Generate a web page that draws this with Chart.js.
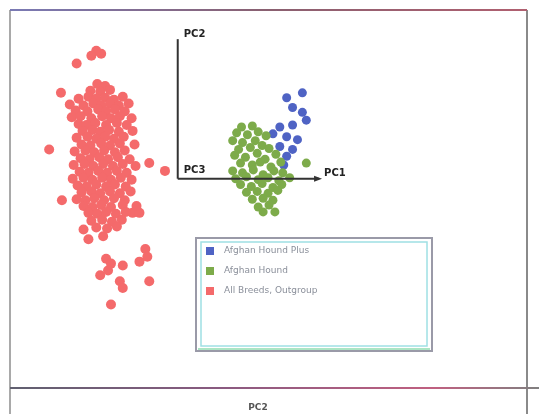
<!DOCTYPE html>
<html>
<head>
<meta charset="utf-8">
<script src="https://cdn.jsdelivr.net/npm/chart.js@4/dist/chart.umd.min.js"></script>
<style>
  body { margin: 0; background: #fff; }
  canvas { display: block; }
</style>
</head>
<body>
<canvas id="pca" width="539" height="414"></canvas>
<script>
// PCA projection, units are arbitrary PC scores
const seriesNames = ['Afghan Hound Plus', 'Afghan Hound', 'All Breeds, Outgroup'];
const axisNames = ['PC1', 'PC2', 'PC3'];
const bottomLabel = 'PC2';

const bluePoints = [
  [11.1, 8.3], [12.7, 8.8], [11.7, 7.3], [12.7, 6.8], [13.1, 6.0], [10.4, 5.3],
  [11.7, 5.5], [11.1, 4.3], [10.4, 3.3], [11.7, 3.0], [11.1, 2.3], [9.7, 4.6], [12.2, 4.0],
  [10.8, 1.4]
];

const greenPoints = [
  [6.5, 5.3], [7.6, 5.4],
  [6.0, 4.7], [7.1, 4.5], [8.2, 4.8], [9.0, 4.4],
  [5.6, 3.9], [6.6, 3.7], [7.9, 3.9], [8.6, 3.4],
  [6.2, 3.0], [7.4, 3.2], [9.3, 3.1],
  [5.8, 2.4], [6.9, 2.2], [8.1, 2.6], [8.9, 2.0], [10.0, 2.5],
  [6.4, 1.6], [7.6, 1.4], [8.4, 1.7], [9.5, 1.2], [10.5, 1.7], [13.1, 1.6],
  [5.6, 0.8], [6.6, 0.6], [7.7, 0.9], [8.7, 0.4], [9.8, 0.8], [10.7, 0.6],
  [5.9, 0.0], [7.0, 0.2], [8.2, -0.1], [9.2, 0.1], [10.3, -0.2], [11.4, 0.1],
  [6.4, -0.6], [7.5, -0.8], [8.6, -0.5], [9.7, -0.9], [10.6, -0.6],
  [7.0, -1.4], [8.1, -1.3], [9.2, -1.5], [10.2, -1.2],
  [7.6, -2.1], [8.7, -2.0], [9.7, -2.2],
  [8.2, -2.9], [9.3, -2.7],
  [8.7, -3.4], [9.9, -3.4]
];

const redPoints = [
  // outliers
  [-8.3, 13.1], [-7.8, 12.8], [-8.8, 12.6], [-10.3, 11.8], [-11.9, 8.8], [-13.1, 3.0],
  [-2.9, 1.6], [-1.3, 0.8], [-11.8, -2.2], [-4.6, -3.5], [-3.9, -3.5], [-9.6, -5.2],
  [-7.6, -5.9], [-9.1, -6.2], [-7.3, -8.2], [-6.8, -8.7], [-3.3, -7.2], [-3.1, -8.0],
  [-5.6, -8.9], [-3.9, -8.5], [-7.9, -9.9], [-5.9, -10.5], [-2.9, -10.5], [-5.6, -11.2],
  [-6.8, -12.9], [-7.1, -9.4],
  // core
  [-8.2, 9.7], [-7.4, 9.5],
  [-8.9, 9.0], [-7.9, 8.9], [-6.9, 9.1],
  [-10.1, 8.2], [-9.1, 8.4], [-8.3, 8.2], [-7.4, 8.3], [-6.5, 8.1], [-5.6, 8.4],
  [-11.0, 7.6], [-9.6, 7.5], [-8.6, 7.7], [-7.8, 7.5], [-6.9, 7.7], [-6.0, 7.5], [-5.0, 7.7],
  [-10.4, 7.0], [-9.2, 6.9], [-8.1, 7.1], [-7.3, 6.9], [-6.4, 7.1], [-5.4, 6.9],
  [-10.8, 6.3], [-9.9, 6.4], [-8.8, 6.2], [-7.7, 6.4], [-6.8, 6.2], [-5.9, 6.4], [-4.7, 6.2],
  [-10.1, 5.6], [-9.3, 5.5], [-8.4, 5.7], [-7.3, 5.5], [-6.2, 5.7], [-5.2, 5.5],
  [-9.7, 4.9], [-8.7, 5.0], [-7.9, 4.8], [-7.0, 5.0], [-6.0, 4.8], [-4.6, 4.9],
  [-10.3, 4.2], [-9.2, 4.3], [-8.3, 4.1], [-7.4, 4.3], [-6.5, 4.1], [-5.5, 4.3],
  [-9.8, 3.5], [-8.9, 3.4], [-7.8, 3.6], [-6.9, 3.4], [-5.9, 3.6], [-4.4, 3.5],
  [-10.5, 2.8], [-9.4, 2.9], [-8.5, 2.7], [-7.5, 2.9], [-6.4, 2.7], [-5.4, 2.9],
  [-9.9, 2.1], [-9.0, 2.0], [-8.0, 2.2], [-7.1, 2.0], [-6.1, 2.2], [-4.9, 2.0],
  [-10.6, 1.4], [-9.5, 1.5], [-8.6, 1.3], [-7.6, 1.5], [-6.6, 1.3], [-5.6, 1.5], [-4.3, 1.3],
  [-10.0, 0.7], [-9.1, 0.6], [-8.1, 0.8], [-7.2, 0.6], [-6.2, 0.8], [-5.2, 0.6],
  [-10.7, 0.0], [-9.6, 0.1], [-8.7, -0.1], [-7.7, 0.1], [-6.8, -0.1], [-5.8, 0.1], [-4.7, -0.1],
  [-10.2, -0.7], [-9.3, -0.8], [-8.3, -0.6], [-7.3, -0.8], [-6.4, -0.6], [-5.3, -0.8],
  [-9.8, -1.4], [-8.8, -1.3], [-7.9, -1.5], [-6.9, -1.3], [-5.9, -1.5], [-4.8, -1.3],
  [-10.3, -2.1], [-9.4, -2.2], [-8.5, -2.0], [-7.5, -2.2], [-6.5, -2.0], [-5.4, -2.2],
  [-9.6, -2.8], [-8.7, -2.9], [-7.8, -2.7], [-6.8, -2.9], [-5.6, -2.7], [-4.2, -2.8],
  [-9.1, -3.5], [-8.2, -3.6], [-7.3, -3.4], [-6.3, -3.6], [-5.3, -3.4],
  [-8.8, -4.3], [-7.7, -4.2], [-6.7, -4.4], [-5.7, -4.2],
  [-8.3, -5.0], [-7.2, -5.1], [-6.2, -4.9]
];

// axis arrows drawn from the origin
const pc1Axis = [[0, 0], [14.4, 0]];
const pc2Axis = [[0, 0], [0, 14.3]];

const colors = ['#4f63c4', '#7dab4a', '#f46a6b'];

const toXY = arr => arr.map(p => ({ x: p[0], y: p[1] }));

// frame, axis labels and legend box
const decor = {
  id: 'decor',
  beforeDatasetsDraw(chart) {
    const c = chart.ctx;
    c.save();
    // left / right borders
    c.lineWidth = 2;
    c.strokeStyle = '#a9a9a9';
    c.beginPath(); c.moveTo(10, 10); c.lineTo(10, 414); c.stroke();
    c.strokeStyle = '#8a8a8a';
    c.beginPath(); c.moveTo(527, 10); c.lineTo(527, 414); c.stroke();
    // top border
    let g = c.createLinearGradient(10, 0, 527, 0);
    g.addColorStop(0, '#7a7ab4');
    g.addColorStop(0.5, '#8a6070');
    g.addColorStop(1, '#b06070');
    c.strokeStyle = g;
    c.beginPath(); c.moveTo(10, 10); c.lineTo(527, 10); c.stroke();
    // lower separator
    g = c.createLinearGradient(10, 0, 539, 0);
    g.addColorStop(0, '#606070');
    g.addColorStop(0.4, '#8a5a80');
    g.addColorStop(0.8, '#c06080');
    g.addColorStop(1, '#808080');
    c.strokeStyle = g;
    c.beginPath(); c.moveTo(10, 388); c.lineTo(539, 388); c.stroke();
    c.restore();
  },
  afterDraw(chart) {
    const c = chart.ctx;
    const xs = chart.scales.x, ys = chart.scales.y;
    c.save();
    // arrow head on PC1
    const ax = xs.getPixelForValue(pc1Axis[1][0]);
    const ay = ys.getPixelForValue(pc1Axis[1][1]);
    c.fillStyle = '#333';
    c.beginPath(); c.moveTo(ax + 3, ay); c.lineTo(ax - 5, ay - 3); c.lineTo(ax - 5, ay + 3); c.closePath(); c.fill();
    // axis labels
    c.font = 'bold 10px "DejaVu Sans"';
    c.fillStyle = '#222';
    c.textBaseline = 'middle';
    c.fillText(axisNames[0], ax + 5, ay - 5);
    const ox = xs.getPixelForValue(0), oy = ys.getPixelForValue(0);
    c.fillText(axisNames[2], ox + 6, oy - 8);
    const tx = xs.getPixelForValue(pc2Axis[1][0]), ty = ys.getPixelForValue(pc2Axis[1][1]);
    c.fillText(axisNames[1], tx + 6, ty - 5);
    c.font = 'bold 9px "DejaVu Sans"';
    c.fillStyle = '#555';
    c.textAlign = 'center';
    c.fillText(bottomLabel, 258, 408);

    // legend box
    c.lineWidth = 2;
    c.strokeStyle = '#9a9aa8';
    c.strokeRect(196, 238, 236, 113);
    c.lineWidth = 1.5;
    c.strokeStyle = '#9fe0e4';
    c.strokeRect(201, 242, 226, 104);
    c.strokeStyle = '#8fdcb0';
    c.beginPath(); c.moveTo(198, 349); c.lineTo(430, 349); c.stroke();
    c.textAlign = 'left';
    c.font = '9px "DejaVu Sans"';
    seriesNames.forEach((name, i) => {
      const y = 251 + i * 20;
      c.fillStyle = colors[i];
      c.fillRect(206, y - 4, 8, 8);
      c.fillStyle = '#8a8f9a';
      c.fillText(name, 224, y);
    });
    c.restore();
  }
};

new Chart(document.getElementById('pca'), {
  type: 'scatter',
  data: {
    datasets: [
      { label: 'pc1', data: toXY(pc1Axis), showLine: true, borderColor: '#333', borderWidth: 2, pointRadius: 0 },
      { label: 'pc2', data: toXY(pc2Axis), showLine: true, borderColor: '#333', borderWidth: 2, pointRadius: 0 },
      { label: seriesNames[2], data: toXY(redPoints), backgroundColor: colors[2], borderWidth: 0, pointRadius: 5 },
      { label: seriesNames[1], data: toXY(greenPoints), backgroundColor: colors[1], borderWidth: 0, pointRadius: 4.5 },
      { label: seriesNames[0], data: toXY(bluePoints), backgroundColor: colors[0], borderWidth: 0, pointRadius: 4.5 }
    ]
  },
  options: {
    responsive: false,
    animation: false,
    layout: { padding: 0 },
    plugins: { legend: { display: false }, tooltip: { enabled: false } },
    scales: {
      x: { type: 'linear', display: false, min: -17.6, max: 36.3 },
      y: { type: 'linear', display: false, min: -23.6, max: 17.8 }
    }
  },
  plugins: [decor]
});
</script>
</body>
</html>
